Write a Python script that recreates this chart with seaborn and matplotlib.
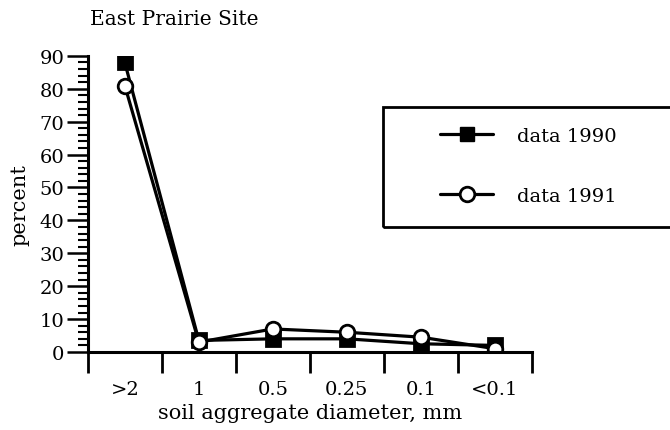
import pandas as pd
import matplotlib.pyplot as plt
import seaborn as sns
from matplotlib.patches import Rectangle
from matplotlib.ticker import MultipleLocator, FixedLocator

# data
sizes = [">2", "1", "0.5", "0.25", "0.1", "<0.1"]
data_1990 = [88, 3.5, 4, 4, 2.5, 2]
data_1991 = [81, 3, 7, 6, 4.5, 1]

df = pd.DataFrame({
    "pos": list(range(len(sizes))) * 2,
    "percent": data_1990 + data_1991,
    "series": ["data 1990"] * len(sizes) + ["data 1991"] * len(sizes),
})

sns.set_theme(style="ticks", rc={
    "axes.edgecolor": "black", "xtick.color": "black", "ytick.color": "black",
    "text.color": "black", "axes.labelcolor": "black",
})
plt.rcParams["font.family"] = ["DejaVu Serif"]

fig = plt.figure(figsize=(6.7, 4.31), dpi=100)
ax = fig.add_axes([0.131, 0.181, 0.663, 0.687])

sns.lineplot(
    data=df, x="pos", y="percent", hue="series", style="series",
    palette=["black", "black"], markers=["s", "o"], dashes=False,
    linewidth=2.3, markersize=10.5, ax=ax, legend=False,
)
# open circles for 1991
for line, face in zip(ax.lines, ["black", "white"]):
    line.set_markerfacecolor(face)
    line.set_markeredgecolor("black")
    line.set_markeredgewidth(2)

ax.set_xlim(-0.5, len(sizes) - 0.5)
ax.set_ylim(0, 90)
sns.despine(ax=ax)
for s in ["left", "bottom"]:
    ax.spines[s].set_linewidth(2.2)

ax.yaxis.set_major_locator(MultipleLocator(10))
ax.yaxis.set_minor_locator(MultipleLocator(2))
ax.tick_params(axis="y", which="major", direction="out", length=15, width=1.8,
               labelsize=14, pad=2)
ax.tick_params(axis="y", which="minor", direction="out", length=7, width=1.5)

ax.xaxis.set_major_locator(FixedLocator([i - 0.5 for i in range(len(sizes) + 1)]))
ax.xaxis.set_minor_locator(FixedLocator(range(len(sizes))))
ax.set_xticklabels([""] * (len(sizes) + 1))
ax.set_xticklabels(sizes, minor=True)
ax.tick_params(axis="x", which="major", direction="out", length=15, width=2)
ax.tick_params(axis="x", which="minor", length=0, labelsize=14, pad=20)

ax.set_xlabel("soil aggregate diameter, mm", fontsize=15, labelpad=4)
ax.set_ylabel("percent", fontsize=15, labelpad=7)
fig.text(0.134, 0.955, "East Prairie Site", fontsize=14.5, va="center")

# legend box (runs off the right edge as in the original)
fig.patches.append(Rectangle((383 / 670, 1 - 228 / 431), 0.5, 120 / 431,
                             transform=fig.transFigure, fill=False,
                             edgecolor="black", linewidth=2))
handles = [
    plt.Line2D([], [], color="black", lw=2.3, marker="s", markersize=10.5,
               markerfacecolor="black", markeredgecolor="black"),
    plt.Line2D([], [], color="black", lw=2.3, marker="o", markersize=10.5,
               markerfacecolor="white", markeredgecolor="black", markeredgewidth=2),
]
fig.legend(handles, ["data 1990", "data 1991"], loc="upper left",
           bbox_to_anchor=(440 / 670, 1 - 128 / 431), fontsize=14,
           frameon=False, handlelength=2.75, labelspacing=2.15,
           borderpad=0, handletextpad=1.2, borderaxespad=0)

fig.savefig("out.png", dpi=100)
